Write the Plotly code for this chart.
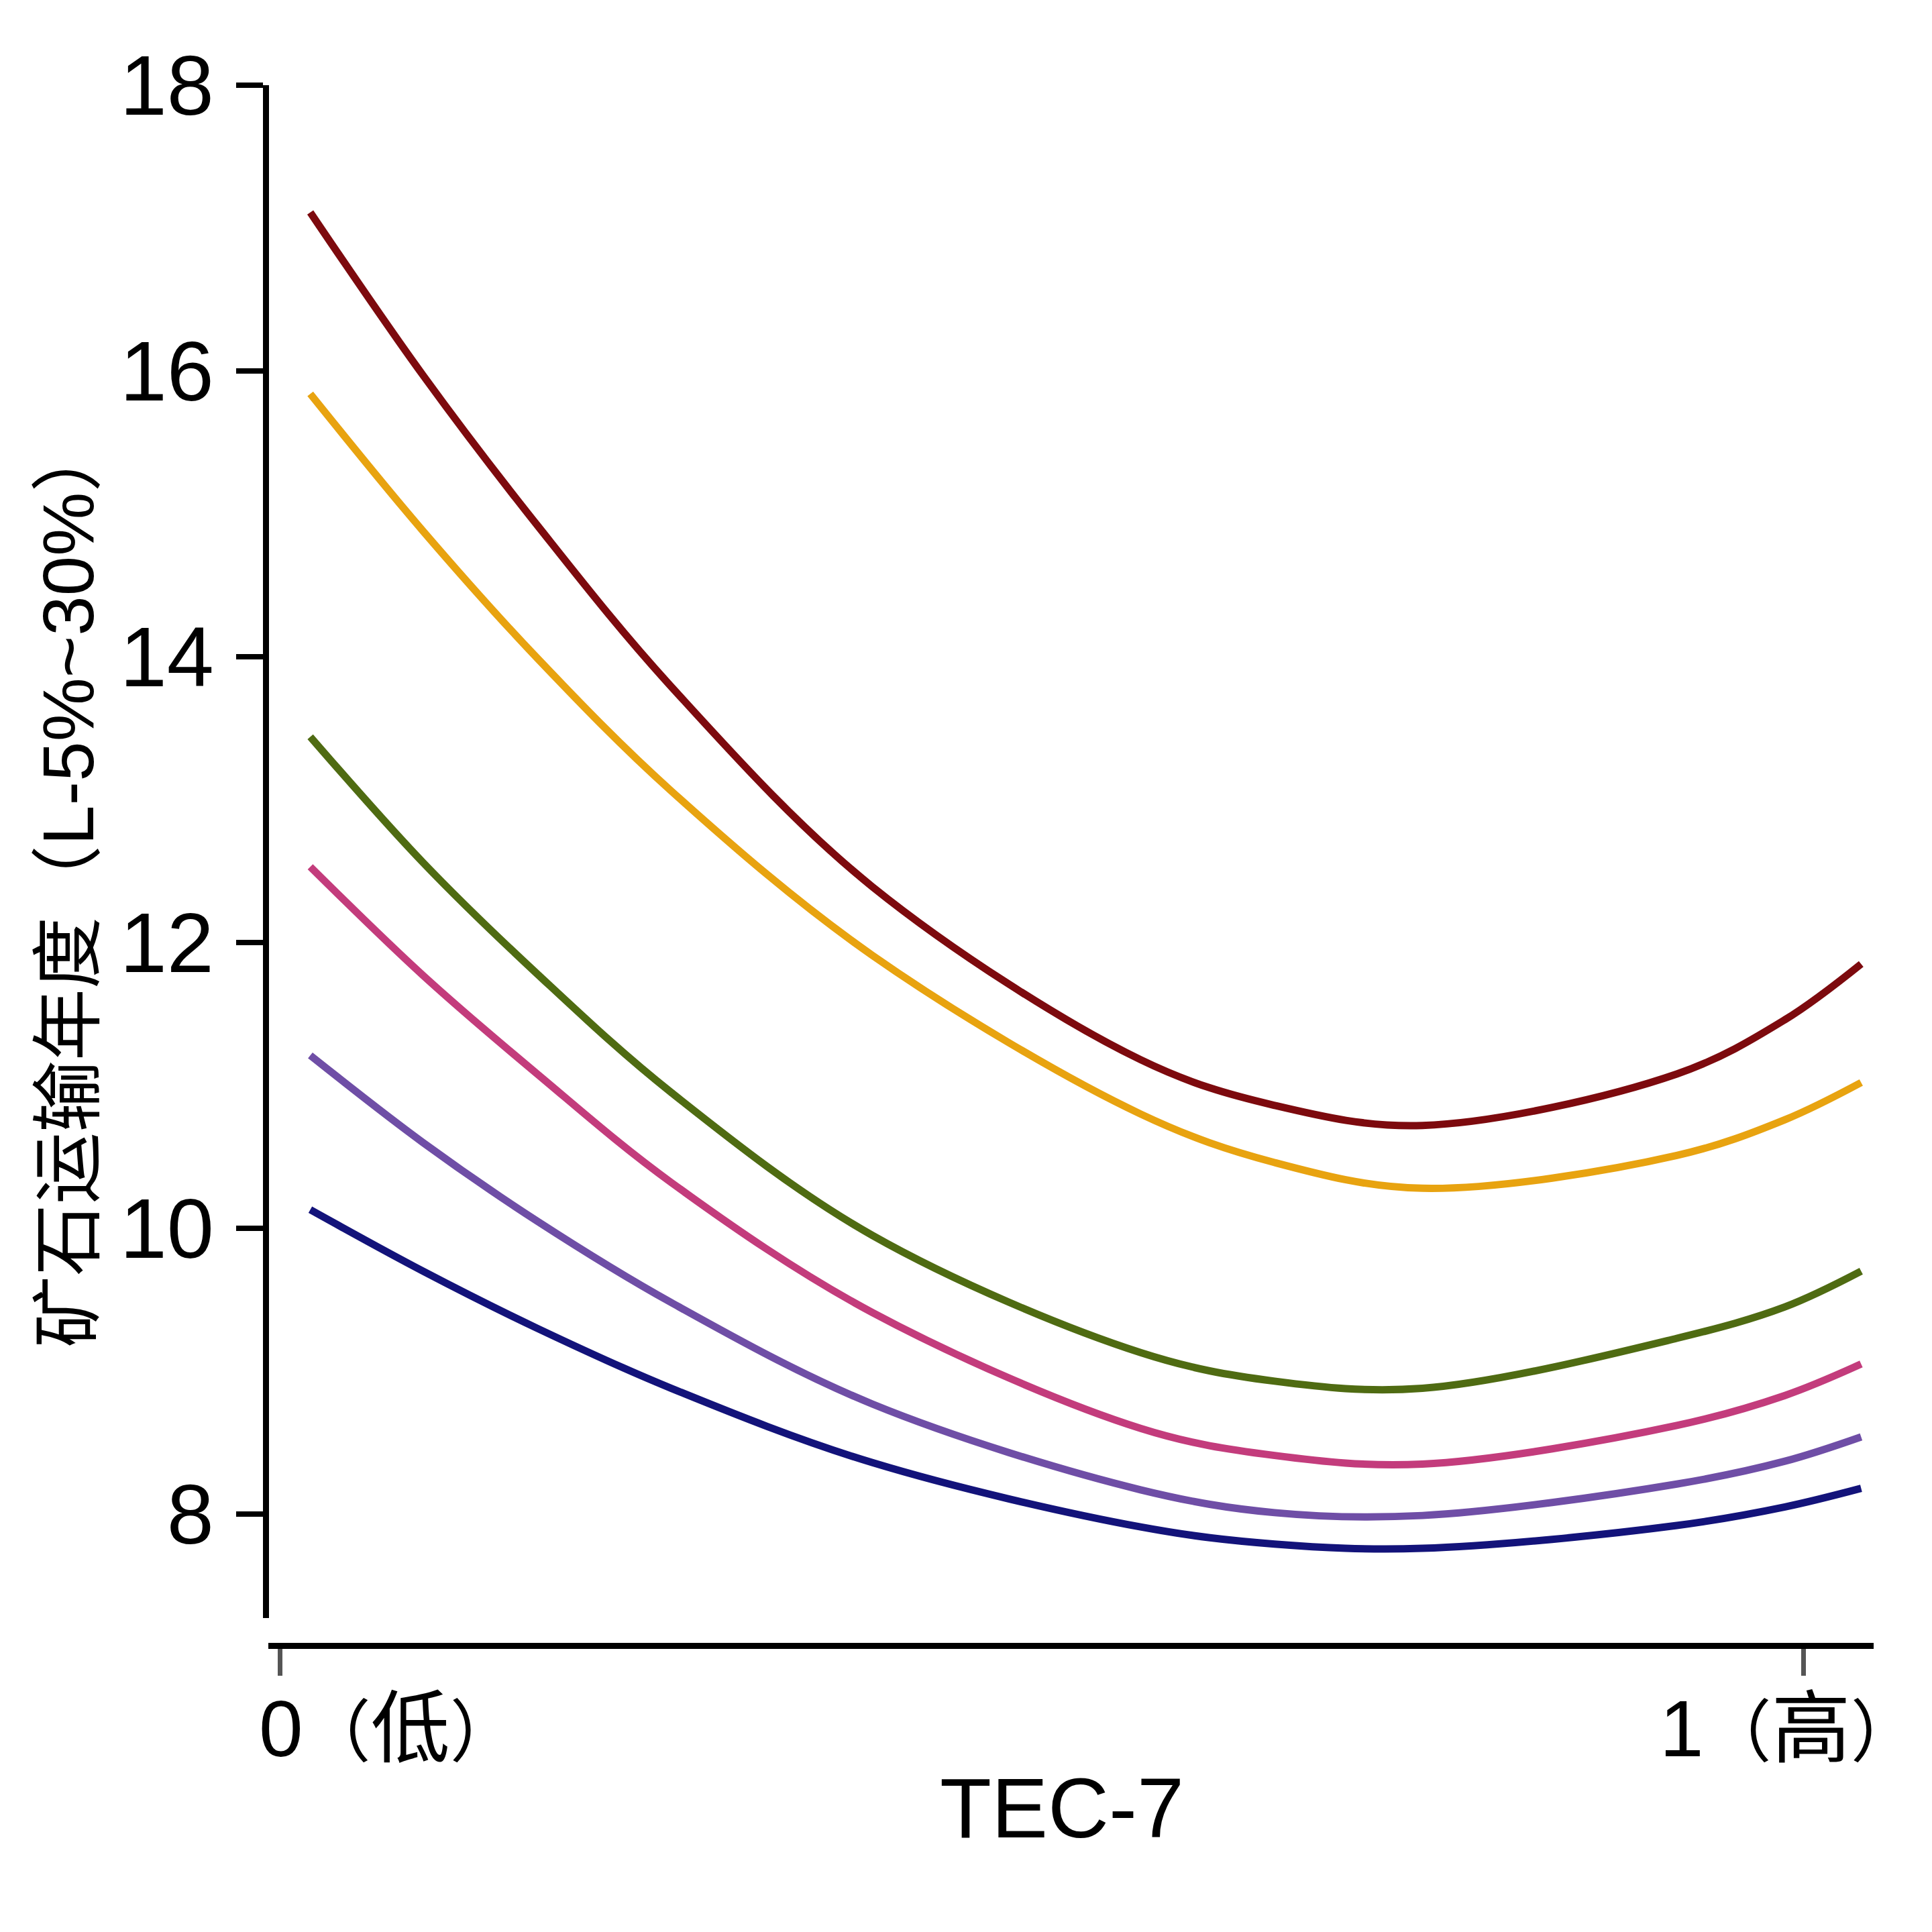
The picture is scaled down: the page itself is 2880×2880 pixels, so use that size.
import plotly.graph_objects as go

# ---- data ----
x_vals = [0.02, 0.094, 0.169, 0.257, 0.389, 0.565, 0.653, 0.75, 0.917, 0.988, 1.038]

series_darkred = [17.11, 15.97, 14.92, 13.79, 12.39, 11.18, 10.86, 10.72, 11.08, 11.46, 11.85]
series_orange = [15.84, 14.88, 13.99, 13.06, 11.91, 10.80, 10.46, 10.28, 10.51, 10.76, 11.02]
series_green = [13.44, 12.56, 11.78, 10.95, 9.95, 9.13, 8.93, 8.88, 9.23, 9.45, 9.70]
series_pink = [12.53, 11.77, 11.08, 10.32, 9.41, 8.60, 8.41, 8.35, 8.62, 8.83, 9.05]
series_purple = [11.21, 10.60, 10.05, 9.48, 8.77, 8.17, 8.01, 7.99, 8.21, 8.37, 8.54]
series_navy = [10.13, 9.70, 9.30, 8.88, 8.36, 7.91, 7.79, 7.76, 7.92, 8.05, 8.18]

y_ticks = [8, 10, 12, 14, 16, 18]
x_ticks = [0, 1]
x_tick_nums = ["0", "1"]
x_tick_words = ["低", "高"]
x_title = "TEC-7"
y_title = "矿石运输年度（L-5%~30%）"

colors = ["#7d0a0e", "#e8a310", "#4f6b12", "#c33c7c", "#6f4ea6", "#13137a"]
series = [series_darkred, series_orange, series_green, series_pink, series_purple, series_navy]

FONT = "Liberation Sans, Arial, Noto Sans CJK SC, sans-serif"

fig = go.Figure()
for s, c in zip(series, colors):
    fig.add_trace(go.Scatter(x=x_vals, y=s, mode="lines",
                             line=dict(color=c, width=11, shape="spline", smoothing=1.0),
                             showlegend=False, hoverinfo="skip"))

fig.update_layout(
    width=2880, height=2880,
    margin=dict(l=396, r=87, t=127, b=427, pad=0),
    paper_bgcolor="white", plot_bgcolor="white",
    font=dict(family=FONT, color="black"),
    xaxis=dict(domain=[0.0017, 1], range=[-0.0075, 1.0462], anchor="free", position=0,
               showline=True, linewidth=9, linecolor="black",
               ticks="outside", tickvals=x_ticks, ticklen=40, tickwidth=7, tickcolor="#555555",
               showticklabels=False, showgrid=False, zeroline=False),
    yaxis=dict(domain=[0.0176, 1], range=[7.272, 18], anchor="free", position=0,
               showline=True, linewidth=9, linecolor="black",
               ticks="outside", tickvals=y_ticks, ticklen=40, tickwidth=8, tickcolor="black",
               tickfont=dict(size=126, family=FONT, color="black"), ticklabelstandoff=8,
               showgrid=False, zeroline=False),
)

# x tick labels (first starts at its tick, last ends near the axis end)
def tick_label(num, word):
    p = '<span style="font-size:101px">'
    return num + p + '（</span>' + word + p + '）</span>'

fig.add_annotation(x=x_ticks[0], y=0, xref="x", yref="paper",
                   text=tick_label(x_tick_nums[0], x_tick_words[0]),
                   xanchor="left", yanchor="top", xshift=-33, yshift=-56, showarrow=False,
                   font=dict(size=118, family=FONT, color="black"))
fig.add_annotation(x=x_ticks[1], y=0, xref="x", yref="paper",
                   text=tick_label(x_tick_nums[1], x_tick_words[1]),
                   xanchor="left", yanchor="top", xshift=-216, yshift=-56, showarrow=False,
                   font=dict(size=118, family=FONT, color="black"))

# axis titles
fig.add_annotation(x=(1583 - 396) / 2397, y=(2453 - 2695) / 2326, xref="paper", yref="paper",
                   text=x_title, xanchor="center", yanchor="middle", showarrow=False,
                   font=dict(size=126, family=FONT, color="black"))
fig.add_annotation(x=(102 - 396) / 2397, y=(2453 - 1318) / 2326, xref="paper", yref="paper",
                   text=y_title, textangle=-90, xanchor="center", yanchor="middle", showarrow=False,
                   font=dict(size=107, family=FONT, color="black"))

fig.write_html("out.html")
